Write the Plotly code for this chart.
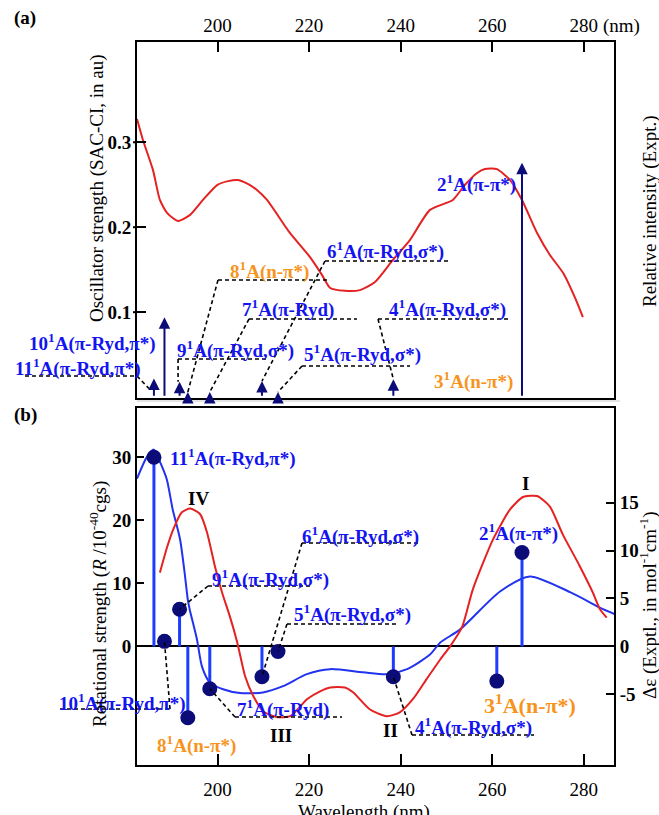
import plotly.graph_objects as go

# ---------------- data ----------------
states = ["11", "10", "9", "8", "7", "6", "5", "4", "3", "2"]
state_char = ["π-Ryd,π*", "π-Ryd,π*", "π-Ryd,σ*", "n-π*", "π-Ryd", "π-Ryd,σ*",
              "π-Ryd,σ*", "π-Ryd,σ*", "n-π*", "π-π*"]
state_nm = [186.1, 188.4, 191.7, 193.5, 198.3, 209.7, 213.2, 238.4, 261.0, 266.5]
osc_strength = [0.022, 0.094, 0.018, 0.006, 0.006, 0.019, 0.006, 0.021, 0.004, 0.276]
rot_strength = [30.0, 0.8, 5.9, -11.3, -6.7, -4.8, -0.8, -4.8, -5.5, 14.9]

abs_nm = [182.4, 183.7, 185.9, 187.4, 189.0, 191.4, 194.0, 196.8, 199.9, 202.3, 204.5,
          206.6, 208.6, 210.8, 215.8, 220.2, 222.8, 224.6, 227.8, 231.1, 234.4, 238.3,
          242.0, 246.4, 251.4, 254.0, 256.7, 258.4, 261.0, 263.9, 266.5, 269.8, 272.6,
          275.5, 278.1, 279.8]
abs_rel = [0.783, 0.724, 0.639, 0.555, 0.518, 0.496, 0.513, 0.555, 0.597, 0.608, 0.611,
           0.600, 0.583, 0.555, 0.462, 0.394, 0.344, 0.307, 0.299, 0.301, 0.324, 0.386,
           0.442, 0.527, 0.555, 0.597, 0.631, 0.642, 0.642, 0.611, 0.555, 0.462, 0.400,
           0.349, 0.279, 0.225]

cd_calc_nm = [182.4, 184.6, 186.1, 187.4, 188.9, 190.2, 191.8, 192.8, 193.5, 193.9, 195.5,
              196.6, 198.3, 201.2, 204.9, 209.9, 214.3, 219.5, 224.6, 231.8, 237.0, 241.4,
              246.4, 248.6, 253.0, 261.7, 268.2, 277.0, 284.2, 286.8]
cd_calc_R = [26.6, 30.1, 31.2, 29.3, 26.5, 21.7, 17.0, 11.7, 7.4, 5.9, 1.1,
             -3.2, -5.7, -6.8, -7.4, -7.3, -6.3, -4.4, -3.6, -4.1, -4.4, -3.6,
             -1.3, 0.6, 2.7, 8.7, 11.1, 8.6, 5.9, 5.1]

cd_expt_nm = [187.4, 189.0, 190.3, 192.2, 194.0, 196.2, 197.7, 199.4, 201.0, 202.7, 204.3,
              206.0, 207.8, 210.0, 213.0, 215.9, 219.6, 222.4, 224.6, 227.8, 229.6, 233.3,
              237.0, 239.8, 242.7, 245.7, 248.6, 250.8, 253.4, 255.8, 260.2, 263.9, 266.7,
              269.8, 272.6, 275.4, 279.1, 282.0, 283.5, 285.0]
cd_expt_de = [7.7, 10.4, 12.2, 14.0, 14.4, 13.8, 11.9, 8.4, 5.6, 3.1, 0.4,
              -3.1, -5.2, -6.8, -7.4, -7.3, -5.5, -4.7, -4.3, -4.3, -4.8, -6.6,
              -7.3, -6.9, -5.5, -3.4, -1.4, 0.0, 2.0, 6.0, 11.2, 14.3, 15.6,
              15.7, 14.6, 11.7, 8.4, 5.6, 3.9, 3.0]

x_ticks = [200, 220, 240, 260, 280]
osc_ticks = [0.1, 0.2, 0.3]
rot_ticks = [0, 10, 20, 30]
de_ticks = [-5, 0, 5, 10, 15]
band_names = ["I", "II", "III", "IV"]

# ---------------- geometry / style ----------------
W, H = 659, 815
X0, X1 = 137, 614
XR = [182.4, 286.6]
A_TOP, A_BOT = 42, 398
B_TOP, B_BOT = 408, 765
YA = [-0.001, 0.418]
YA2 = [-0.003, 1.0]
YB = [-18.8, 37.8]
YB2 = [-12.4, 24.9]

SERIF = "Liberation Serif, Times New Roman, serif"
BLUE_T = "#1414f0"
ORANGE = "#f7941d"
NAVY = "#0c0c78"
BLUE = "#1e3cff"
BLUE_C = "#2233ee"
RED = "#e42222"
FS = 19


def xpx(v):
    return X0 + (v - XR[0]) / (XR[1] - XR[0]) * (X1 - X0)


def ypx(v, rng, top, bot):
    return bot - (v - rng[0]) / (rng[1] - rng[0]) * (bot - top)


def px(x):
    return x / W


def py(y):
    return 1 - y / H


idx = {s: i for i, s in enumerate(states)}


def label_text(s):
    return f"<b>{s}<sup>1</sup>A({state_char[idx[s]]})</b>"


def label_color(s):
    return ORANGE if state_char[idx[s]].startswith("n") else BLUE_T


fig = go.Figure()

# panel (a): experimental absorption (relative)
fig.add_trace(go.Scatter(x=abs_nm, y=abs_rel, xaxis="x", yaxis="y2", mode="lines",
                         line=dict(color=RED, width=2, shape="spline", smoothing=0.6),
                         hoverinfo="skip"))
# invisible anchor trace on oscillator axis
fig.add_trace(go.Scatter(x=state_nm, y=osc_strength, xaxis="x", yaxis="y", mode="markers",
                         marker=dict(opacity=0), hoverinfo="skip"))

# panel (b): calculated and experimental CD
fig.add_trace(go.Scatter(x=cd_calc_nm, y=cd_calc_R, xaxis="x2", yaxis="y3", mode="lines",
                         line=dict(color=BLUE_C, width=2, shape="spline", smoothing=0.7),
                         hoverinfo="skip"))
fig.add_trace(go.Scatter(x=cd_expt_nm, y=cd_expt_de, xaxis="x2", yaxis="y4", mode="lines",
                         line=dict(color=RED, width=2, shape="spline", smoothing=0.6),
                         hoverinfo="skip"))
sx, sy = [], []
for lam, r in zip(state_nm, rot_strength):
    sx += [lam, lam, None]
    sy += [0, r, None]
fig.add_trace(go.Scatter(x=sx, y=sy, xaxis="x2", yaxis="y3", mode="lines",
                         line=dict(color=BLUE, width=3), hoverinfo="skip"))
fig.add_trace(go.Scatter(x=state_nm, y=rot_strength, xaxis="x2", yaxis="y3", mode="markers",
                         marker=dict(color=NAVY, size=15), hoverinfo="skip"))

annotations = []
shapes = []

# arrows for oscillator strengths
for lam, f in zip(state_nm, osc_strength):
    annotations.append(dict(x=lam, y=f, ax=lam, ay=0, xref="x", yref="y", axref="x", ayref="y",
                            text="", showarrow=True, arrowhead=2, arrowsize=1.15, arrowwidth=2,
                            arrowcolor=NAVY))


def add_label(s, left, cy, size=FS):
    annotations.append(dict(x=px(left), y=py(cy), xref="paper", yref="paper", xanchor="left",
                            yanchor="middle", text=label_text(s), showarrow=False,
                            font=dict(family=SERIF, size=size, color=label_color(s))))


def dash_line(x0, y0, x1, y1):
    shapes.append(dict(type="line", xref="paper", yref="paper", x0=px(x0), y0=py(y0),
                       x1=px(x1), y1=py(y1), line=dict(color="black", width=1.6, dash="4px,3px")))


# panel (a) labels
for s, (l, c) in {"2": (435, 183), "3": (432, 380), "4": (387, 308), "5": (302, 354),
                  "6": (325, 250), "7": (240, 308), "8": (228, 270), "9": (175, 350),
                  "10": (27, 342), "11": (13, 367)}.items():
    add_label(s, l, c)


def tip_a(s, dx=0, dy=0):
    i = idx[s]
    return xpx(state_nm[i]) + dx, ypx(osc_strength[i], YA, A_TOP, A_BOT) + dy


for s, (yy, xa, xb) in {"4": (319, 378, 510), "5": (366, 302, 410), "6": (261, 325, 449),
                        "7": (319, 249, 357), "8": (280, 218, 328), "9": (359, 178, 268),
                        "11": (376, 25, 137)}.items():
    dash_line(xa, yy, xb, yy)
    if s == "9":
        tx, ty = tip_a(s, dx=-1.5)
        dash_line(tx, yy, tx, ty)
    elif s == "11":
        tx, ty = tip_a(s, dx=-5, dy=10)
        dash_line(xb, yy, tx, ty)
    else:
        tx, ty = tip_a(s)
        dash_line(xa, yy, tx, ty)

# panel (b) labels
for s, (l, c, sz) in {"11": (168, 457, FS), "9": (210, 578, FS), "6": (300, 535, FS),
                      "5": (292, 613, FS), "7": (235, 708, FS), "10": (57, 702, FS),
                      "8": (155, 744, FS), "4": (413, 726, FS), "3": (482, 704, 22),
                      "2": (477, 532, FS)}.items():
    add_label(s, l, c, sz)


def dot_b(s):
    i = idx[s]
    return xpx(state_nm[i]), ypx(rot_strength[i], YB, B_TOP, B_BOT)


for s, (yy, xa, xb, xs) in {"9": (586, 208, 313, 208), "6": (543, 302, 420, 302),
                            "5": (624, 287, 397, 287), "7": (717, 235, 342, 235),
                            "10": (709, 60, 170, 170), "4": (735, 412, 534, 412)}.items():
    dash_line(xa, yy, xb, yy)
    tx, ty = dot_b(s)
    dash_line(xs, yy, tx, ty)

# band labels
for name, (cx, cy) in zip(band_names, [(525, 483), (390, 730), (281, 735), (198, 498)]):
    annotations.append(dict(x=px(cx), y=py(cy), xref="paper", yref="paper", xanchor="center",
                            yanchor="middle", text=f"<b>{name}</b>", showarrow=False,
                            font=dict(family=SERIF, size=FS, color="black")))


# panel tags and titles
def plain(text, x, y, size=FS, angle=0, xanchor="center", yanchor="middle"):
    annotations.append(dict(x=px(x), y=py(y), xref="paper", yref="paper", xanchor=xanchor,
                            yanchor=yanchor, text=text, showarrow=False, textangle=angle,
                            font=dict(family=SERIF, size=size, color="black")))


plain("<b>(a)</b>", 12, 18, xanchor="left")
plain("<b>(b)</b>", 12, 415, xanchor="left")
plain("(nm)", 601, 26, xanchor="left")
plain("Oscillator strength (SAC-CI, in au)", 97, 188, angle=-90)
plain("Relative intensity (Expt.)", 650, 211, angle=-90)
plain("Rotational strength (<i>R</i> /10<sup>-40</sup>cgs)", 98, 604, angle=-90)
plain("Δε (Exptl., in mol<sup>-1</sup>cm<sup>-1</sup>)", 648, 606, angle=-90)
plain("Wavelength (nm)", 364, 799, yanchor="top")

# outer stubs of crossing y ticks in panel (a)
for t in osc_ticks:
    shapes.append(dict(type="line", xref="paper", yref="y", x0=px(X0 - 4), x1=px(X0),
                       y0=t, y1=t, line=dict(color="black", width=2)))
# faint separator between panels
shapes.append(dict(type="line", xref="paper", yref="paper", x0=px(X0), x1=px(620),
                   y0=py(401), y1=py(401), line=dict(color="#c8c8c8", width=1)))

tickfont = dict(family=SERIF, size=FS, color="black")
common = dict(showgrid=False, zeroline=False, linecolor="black", linewidth=2,
              tickcolor="black", tickwidth=2, tickfont=tickfont)

fig.update_layout(
    width=W, height=H, margin=dict(l=0, r=0, t=0, b=0),
    paper_bgcolor="white", plot_bgcolor="white", showlegend=False,
    xaxis=dict(domain=[px(X0), px(X1)], range=XR, anchor="y", side="top",
               tickvals=x_ticks, ticktext=[str(v) for v in x_ticks], ticks="inside",
               ticklen=10, showline=True, mirror=True, **common),
    yaxis=dict(domain=[py(A_BOT), py(A_TOP)], range=YA, anchor="x",
               tickvals=osc_ticks, ticktext=[f"<b>{v}</b>" for v in osc_ticks],
               ticks="inside", ticklen=9, showline=True, mirror=True, **common),
    yaxis2=dict(domain=[py(A_BOT), py(A_TOP)], range=YA2, anchor="x", overlaying="y",
                side="right", showticklabels=False, ticks="", showline=False,
                showgrid=False, zeroline=False),
    xaxis2=dict(domain=[px(X0), px(X1)], range=XR, anchor="y3", side="bottom",
                tickvals=x_ticks, ticktext=[str(v) for v in x_ticks], ticks="inside",
                ticklen=11, ticklabelstandoff=6, showline=True, mirror=True, **common),
    yaxis3=dict(domain=[py(B_BOT), py(B_TOP)], range=YB, anchor="x2",
                tickvals=rot_ticks, ticktext=[f"<b>{v}</b>" for v in rot_ticks],
                ticks="inside", ticklen=7, showline=True,
                **{**common, "zeroline": True}, zerolinecolor="black", zerolinewidth=1.6),
    yaxis4=dict(domain=[py(B_BOT), py(B_TOP)], range=YB2, anchor="x2", overlaying="y3",
                side="right", tickvals=de_ticks, ticktext=[f"<b>{v}</b>" for v in de_ticks],
                ticks="inside", ticklen=8, showline=True, **common),
    annotations=annotations,
    shapes=shapes,
)

# remove the browser's default page margin so the figure fills the window exactly
fig.write_html("out.html", config={"displayModeBar": False},
               post_script="document.body.style.margin='0';document.body.style.overflow='hidden';")
